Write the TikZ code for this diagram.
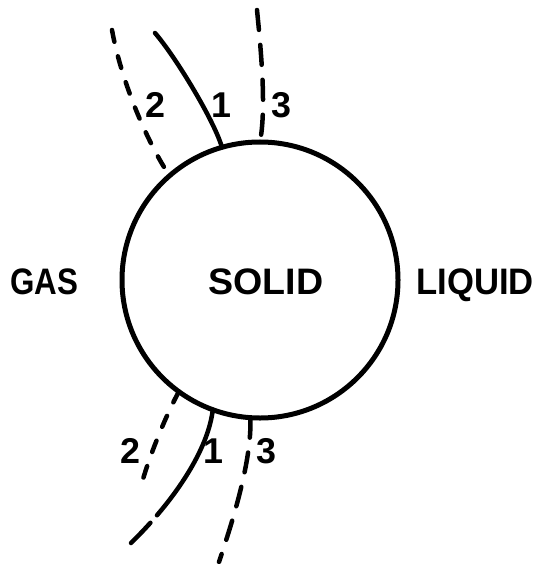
\documentclass[tikz,border=0pt]{standalone}
\usepackage{fontspec}
\setmainfont{Liberation Sans}
\usepackage{graphicx}
\begin{document}
\begin{tikzpicture}[x=1bp,y=-1bp,
  lbl/.style={inner sep=0pt, outer sep=0pt, anchor=base, font=\fontsize{37}{42}\selectfont\bfseries},
  num/.style={inner sep=0pt, outer sep=0pt, anchor=base, font=\fontsize{36}{42}\selectfont\bfseries},
  phase/.style={circle, draw, line width=5bp, minimum size=276bp, inner sep=0pt, outer sep=0pt},
  solidcurve/.style={line width=4.5bp, line cap=round},
  dashcurve/.style={line width=4.5bp, line cap=round, dash pattern=on 12bp off 15bp},
  longdash/.style={line width=4.5bp, line cap=round, dash pattern=on 20bp off 15bp}]
\fill[white] (0,0) rectangle (538,564);
\useasboundingbox (0,0) rectangle (538,564);
% phase circle
\node[phase] (c) at (260,280) {};
% labels
\node[lbl] (gas) at (44,294) {\scalebox{0.85}[1]{GAS}};
\node[lbl] (solid) at (266,294) {\scalebox{1.02}[1]{SOLID}};
\node[lbl] (liquid) at (475,294) {\scalebox{0.94}[1]{LIQUID}};
% free ends
\coordinate (t1) at (155,33);
\coordinate (t2) at (112,30);
\coordinate (t3) at (257,10);
\coordinate (b1) at (131,543);
\coordinate (b2) at (140,490);
\coordinate (b3) at (219,562);
% top curves
\draw[solidcurve] (t1) .. controls (175,56) and (214,120) .. (c.106.7);
\draw[dashcurve] (t2) .. controls (120,75) and (143,135) .. (c.131);
\draw[longdash] (t3) .. controls (262,60) and (266,110) .. (c.90);
% bottom curves
\draw[line width=4.5bp, line cap=round, dash pattern=on 121bp off 10bp on 200bp] (c.250.4) .. controls (208,450) and (175,500) .. (b1);
\draw[dashcurve] (c.234.2) .. controls (166,415) and (147.5,460) .. (b2);
\draw[longdash] (c.266.7) .. controls (252,460) and (233,520) .. (b3);
% curve numbers
\node[num] (n2t) at (155,118) {2};
\node[num] (n1t) at (221,118) {1};
\node[num] (n3t) at (281,118) {3};
\node[num] (n2b) at (130,463) {2};
\node[num] (n1b) at (213,463) {1};
\node[num] (n3b) at (266,463) {3};
\end{tikzpicture}
\end{document}
